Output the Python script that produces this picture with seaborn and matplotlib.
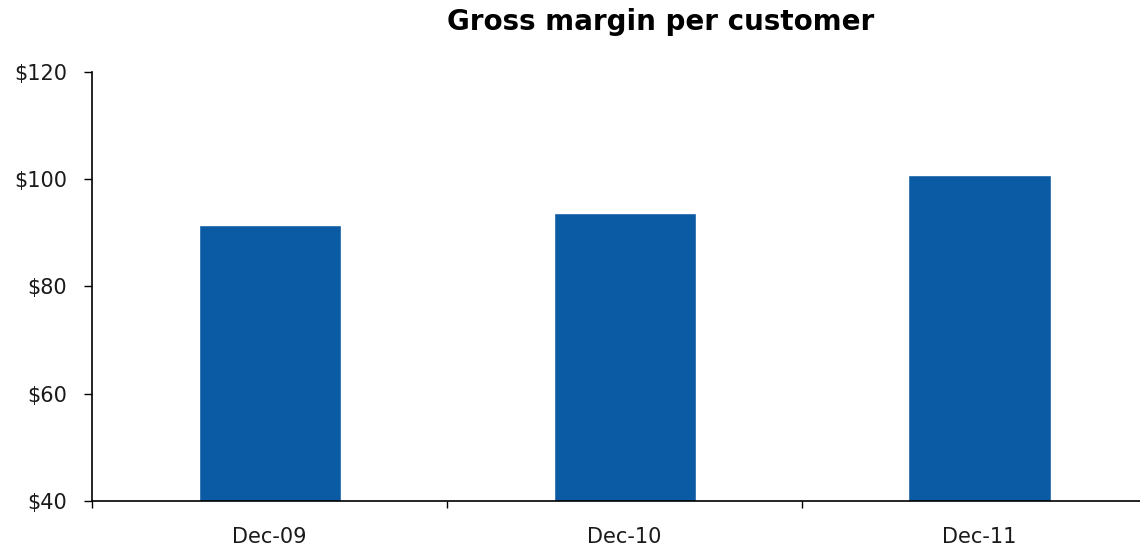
import matplotlib
matplotlib.use("Agg")
import matplotlib.pyplot as plt
import seaborn as sns
import pandas as pd

categories = ["Dec-09", "Dec-10", "Dec-11"]
values = [91.5, 93.7, 100.8]
yticks = [40, 60, 80, 100, 120]

sns.set_theme(style="white")
plt.rcParams["font.family"] = ["DejaVu Sans"]

df = pd.DataFrame({"period": categories, "value": values})

fig = plt.figure(figsize=(11.4, 5.49), dpi=100)
ax = fig.add_axes([92/1140, 48/549, 1 - 92/1140, 429/549])

sns.barplot(data=df, x="period", y="value", color="#0B5AA4", saturation=1,
            width=0.4, ax=ax, order=categories)

ax.set_ylim(40, 120)
ax.set_xlim(-0.5, -0.5 + (1140 - 92) / 355)
ax.set_yticks(yticks)
ax.set_yticklabels([f"${v}" for v in yticks], fontsize=15, color="#1a1a1a")

ax.set_xticks([-0.5, 0.5, 1.5])
ax.set_xticklabels([])
ax.set_xticks([0, 1, 2], minor=True)
ax.set_xticklabels(categories, minor=True, fontsize=15, color="#1a1a1a")
ax.tick_params(axis="x", which="major", direction="out", length=5, width=1.0, color="black", bottom=True)
ax.tick_params(axis="x", which="minor", length=0, pad=19, bottom=True)
ax.tick_params(axis="y", direction="out", length=6, width=1.0, color="black", pad=12, left=True)

ax.set_xlabel("")
ax.set_ylabel("")
for s in ["top", "right"]:
    ax.spines[s].set_visible(False)
for s in ["left", "bottom"]:
    ax.spines[s].set_color("black")
    ax.spines[s].set_linewidth(1.2)

fig.text(661/1140, 1 - 22/549, "Gross margin per customer", ha="center", va="center",
         fontsize=20, fontweight="bold", color="black")

fig.savefig("out.png", dpi=100)
